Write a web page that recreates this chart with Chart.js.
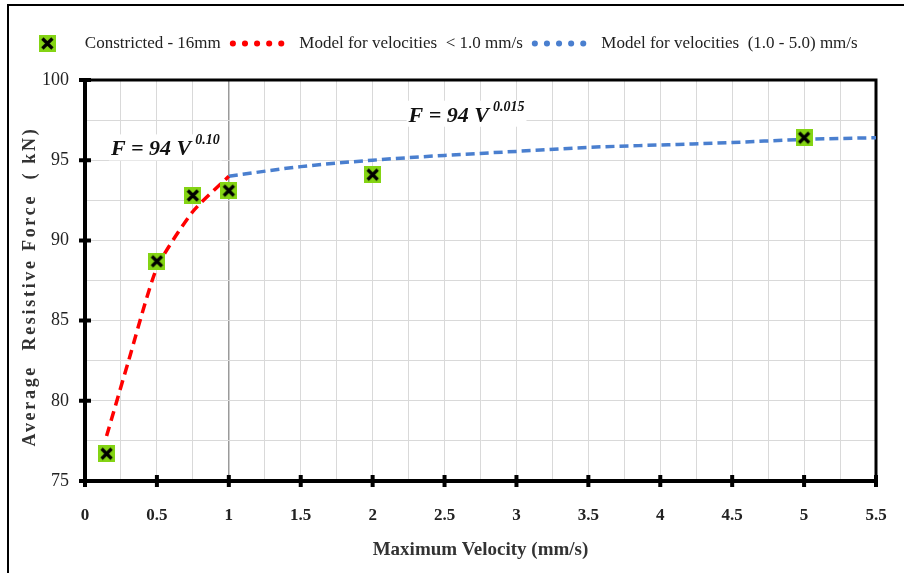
<!DOCTYPE html>
<html>
<head>
<meta charset="utf-8">
<script src="https://cdn.jsdelivr.net/npm/chart.js@4.4.0/dist/chart.umd.min.js"></script>
<style>
  html, body { margin: 0; padding: 0; background: #fff; }
</style>
</head>
<body>
<canvas id="forceChart" width="904" height="573"></canvas>
<script>
// measured points (constricted, 16mm)
const testVelocity = [0.15, 0.5, 0.75, 1.0, 2.0, 5.0];
const testForce = [76.7, 88.7, 92.8, 93.1, 94.1, 96.4];

// model curve below 1.0 mm/s
const lowVelocity = [0.15, 0.3, 0.5, 0.75, 1.0];
const lowForce = [77.8, 82.4, 88.3, 91.8, 94.0];

// model curve 1.0 - 5.0 mm/s
const highVelocity = [1.0, 1.5, 2.0, 2.5, 3.0, 3.5, 4.0, 4.5, 5.0, 5.5];
const highForce = [94.0, 94.6, 95.0, 95.3, 95.55, 95.8, 95.95, 96.1, 96.3, 96.4];

const xTickLabels = [0, 0.5, 1, 1.5, 2, 2.5, 3, 3.5, 4, 4.5, 5, 5.5];
const yTickLabels = [75, 80, 85, 90, 95, 100];

const serif = "'Liberation Serif', 'Times New Roman', serif";
const textColor = '#222';
const LEGEND_GAP = 18;

function toPoints(xs, ys) {
  return xs.map((x, i) => ({ x: x, y: ys[i] }));
}

// green square with a black cross
function makeMarker() {
  const c = document.createElement('canvas');
  c.width = 17;
  c.height = 17;
  const g = c.getContext('2d');
  g.fillStyle = '#84d414';
  g.fillRect(0, 0, 17, 17);
  g.strokeStyle = '#000';
  g.lineWidth = 3.2;
  g.beginPath();
  g.moveTo(3.5, 3.5); g.lineTo(13.5, 13.5);
  g.moveTo(13.5, 3.5); g.lineTo(3.5, 13.5);
  g.stroke();
  return c;
}
const marker = makeMarker();

function near(v, list) {
  return list.some(t => Math.abs(t - v) < 1e-6);
}

// white page frame, top/right plot border and the axis tick marks
const framePlugin = {
  id: 'frame',
  beforeDraw(chart) {
    const ctx = chart.ctx;
    ctx.save();
    ctx.fillStyle = '#fff';
    ctx.fillRect(0, 0, chart.width, chart.height);
    ctx.strokeStyle = '#000';
    ctx.lineWidth = 2;
    ctx.strokeRect(8, 5, 1000, 1000);
    ctx.restore();
  },
  beforeDatasetsDraw(chart) {
    const ctx = chart.ctx;
    const a = chart.chartArea;
    const xs = chart.scales.x;
    const ys = chart.scales.y;
    ctx.save();
    ctx.strokeStyle = '#000';
    ctx.lineWidth = 3;
    ctx.beginPath();
    ctx.moveTo(a.left, a.top);
    ctx.lineTo(a.right, a.top);
    ctx.lineTo(a.right, a.bottom);
    ctx.stroke();
    ctx.lineWidth = 4;
    ctx.beginPath();
    xTickLabels.forEach(v => {
      const px = xs.getPixelForValue(v);
      ctx.moveTo(px, a.bottom - 6);
      ctx.lineTo(px, a.bottom + 6);
    });
    yTickLabels.forEach(v => {
      const py = ys.getPixelForValue(v);
      ctx.moveTo(a.left - 6, py);
      ctx.lineTo(a.left + 6, py);
    });
    ctx.stroke();
    ctx.restore();
  },
  afterDraw(chart) {
    // y axis title, letter spaced like the original
    const ctx = chart.ctx;
    const a = chart.chartArea;
    ctx.save();
    ctx.translate(30, (a.top + a.bottom) / 2 + 6);
    ctx.rotate(-Math.PI / 2);
    ctx.font = 'bold 18px ' + serif;
    ctx.letterSpacing = '2.7px';
    ctx.fillStyle = '#333';
    ctx.textAlign = 'center';
    ctx.textBaseline = 'middle';
    ctx.fillText('Average  Resistive Force  ( kN)', 0, 0);
    ctx.restore();
  }
};

// model equations written on the plot
const equationPlugin = {
  id: 'equations',
  afterDatasetsDraw(chart) {
    const ctx = chart.ctx;
    const xs = chart.scales.x;
    const ys = chart.scales.y;
    const eqs = [
      { x: 0.18, y: 95.3, exp: '0.10' },
      { x: 2.25, y: 97.4, exp: '0.015' }
    ];
    ctx.save();
    ctx.textBaseline = 'alphabetic';
    eqs.forEach(e => {
      const px = xs.getPixelForValue(e.x);
      const py = ys.getPixelForValue(e.y);
      ctx.font = 'italic bold 22px ' + serif;
      const main = 'F = 94 V';
      const w1 = ctx.measureText(main).width;
      ctx.font = 'italic bold 14px ' + serif;
      const w2 = ctx.measureText(e.exp).width;
      ctx.fillStyle = '#fff';
      ctx.fillRect(px - 2, py - 21, w1 + w2 + 8, 26);
      ctx.fillStyle = '#111';
      ctx.font = 'italic bold 22px ' + serif;
      ctx.fillText(main, px, py);
      ctx.font = 'italic bold 14px ' + serif;
      ctx.fillText(e.exp, px + w1 + 4, py - 11);
    });
    ctx.restore();
  }
};

// leave a gap between the legend and the plot
const legendGapPlugin = {
  id: 'legendGap',
  beforeLayout(chart) {
    const lg = chart.legend;
    if (lg && !lg._gapPatched) {
      const fit = lg.fit;
      lg.fit = function () {
        fit.call(this);
        this.height += LEGEND_GAP;
      };
      lg._gapPatched = true;
    }
  }
};

const ctx = document.getElementById('forceChart');
new Chart(ctx, {
  type: 'scatter',
  data: {
    datasets: [
      {
        label: 'Constricted - 16mm',
        data: toPoints(testVelocity, testForce),
        pointStyle: marker,
        pointRadius: 9,
        showLine: false,
        order: 0
      },
      {
        label: 'Model for velocities  < 1.0 mm/s',
        data: toPoints(lowVelocity, lowForce),
        showLine: true,
        borderColor: '#ff0000',
        backgroundColor: '#ff0000',
        borderWidth: 3.5,
        borderDash: [10, 6],
        tension: 0.2,
        pointRadius: 0,
        pointStyle: 'line',
        order: 1
      },
      {
        label: 'Model for velocities  (1.0 - 5.0) mm/s',
        data: toPoints(highVelocity, highForce),
        showLine: true,
        borderColor: '#4a7fcf',
        backgroundColor: '#4a7fcf',
        borderWidth: 3.5,
        borderDash: [9, 5],
        cubicInterpolationMode: 'monotone',
        pointRadius: 0,
        pointStyle: 'line',
        order: 2
      }
    ]
  },
  options: {
    responsive: false,
    animation: false,
    layout: { padding: { top: 23, right: 28, bottom: 0, left: 0 } },
    plugins: {
      tooltip: { enabled: false },
      legend: {
        position: 'top',
        labels: {
          usePointStyle: true,
          pointStyleWidth: 58,
          padding: 12,
          color: textColor,
          font: { family: serif, size: 17 },
          generateLabels(chart) {
            const items = Chart.defaults.plugins.legend.labels.generateLabels(chart);
            items.forEach(it => {
              if (it.pointStyle === 'line') {
                it.lineDash = [0.1, 12];
                it.lineCap = 'round';
                it.lineWidth = 6;
              }
            });
            return items;
          }
        }
      }
    },
    scales: {
      x: {
        type: 'linear',
        min: 0,
        max: 5.5,
        afterFit(s) {
          s.height = 92;
          s.paddingLeft = 0;
          s.paddingRight = 0;
        },
        border: { color: '#000', width: 4 },
        grid: {
          drawTicks: false,
          color: c => (c.tick && Math.abs(c.tick.value - 1) < 1e-6 ? '#9a9a9a' : '#d9d9d9'),
          lineWidth: c => (c.tick && Math.abs(c.tick.value - 1) < 1e-6 ? 1.5 : 1)
        },
        ticks: {
          stepSize: 0.25,
          autoSkip: false,
          maxRotation: 0,
          padding: 24,
          color: textColor,
          font: { family: serif, size: 17, weight: 'bold' },
          callback: v => (near(v, xTickLabels) ? String(Math.round(v * 100) / 100) : '')
        },
        title: {
          display: true,
          text: 'Maximum Velocity (mm/s)',
          color: '#333',
          font: { family: serif, size: 19, weight: 'bold' },
          padding: { top: 0, bottom: 12 }
        }
      },
      y: {
        min: 75,
        max: 100,
        afterFit(s) { s.width = 85; },
        border: { color: '#000', width: 4 },
        grid: { drawTicks: false, color: '#d9d9d9' },
        ticks: {
          stepSize: 2.5,
          autoSkip: false,
          padding: 16,
          color: textColor,
          font: { family: serif, size: 18 },
          callback: v => (near(v, yTickLabels) ? String(v) : '')
        }
      }
    }
  },
  plugins: [framePlugin, equationPlugin, legendGapPlugin]
});
</script>
</body>
</html>
